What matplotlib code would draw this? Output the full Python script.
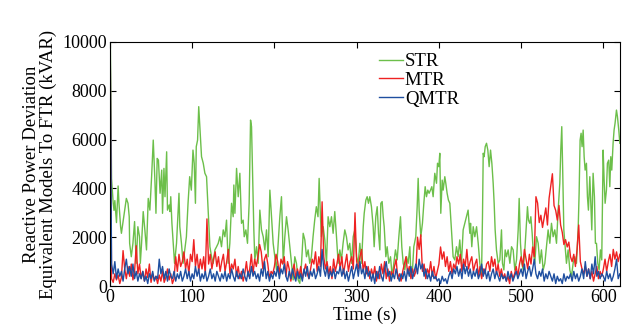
import numpy as np
import matplotlib
matplotlib.use("Agg")
import matplotlib.pyplot as plt

plt.rcParams['font.family'] = ['Liberation Serif', 'DejaVu Serif']

# STR: irregular time points
str_t = [0, 2, 4, 5, 6, 8, 10, 11, 13, 14, 16, 18, 20, 22, 23.5, 24, 26, 28, 30, 31,
         32, 34, 36, 37, 38.5, 40.5, 42.5, 44.5, 46.6, 48.6, 50.7, 52.7, 54.7, 56, 57.5, 59,
         61, 63, 64, 65.7, 67, 69, 70, 72, 73, 74, 75.4, 77, 78.6, 81, 84, 85, 87, 89, 91,
         93, 95, 97, 99, 101, 102.5, 104, 105, 106.6, 108, 109.4, 111.4, 113.5, 115.5,
         117.5, 119.5, 121.6, 123.6, 125.6, 127.7, 129.7, 131.7, 133.7, 135.7, 137.8,
         139.8, 141.8, 143.8, 145.8, 147.9, 149.9, 150.7, 152, 154, 156, 158, 160, 162,
         163.3, 165.3, 167.3, 169.3, 171, 172.2, 173.4, 175, 176.2, 178.3, 180.3, 182.3,
         184.3, 186.4, 188.4, 190.4, 192.4, 194.5, 196.5, 198.5, 200.5, 202.6, 204.6,
         206.6, 208.6, 209.8, 210.7, 212.7, 214.7, 216.7, 218.7, 220.8, 222.8, 224.8,
         226.8, 228.9, 230.9, 233, 235, 237, 239, 241, 243, 245, 247, 249, 251, 253, 254.4,
         256, 257.2, 259.3, 261.3, 263.3, 265.3, 267.4, 269.4, 271.4, 273.4, 275.5, 277.5,
         279.5, 281.5, 283.5, 285.6, 287.6, 289.6, 291.6, 293.8, 295.8, 297.8, 299.9,
         301.9, 303.9, 305.9, 308, 309.2, 311.2, 312.8, 314.4, 316, 318, 320.1, 321.3,
         323.3, 325, 326.6, 328.2, 329.4, 331, 332.3, 333.5, 335.5, 337.1, 339.1, 341.2,
         343.2, 345.2, 347.2, 349.3, 351.3, 353.3, 354.9, 356.6, 358.6, 360.6, 362.6,
         364.7, 365.9, 367.9, 369.5, 371.9, 373.6, 374.8, 376, 378, 380, 381.7, 383.3,
         384.9, 386.5, 388.1, 389.8, 391.4, 393, 395, 397.1, 398.3, 399.9, 401.1, 402.3,
         404, 405.2, 407.2, 408.4, 410, 411.6, 413.3, 415.3, 417.3, 419.3, 421.4, 423.4,
         425.4, 427.4, 429.5, 431.5, 433.5, 435.5, 437.6, 438.5, 440, 441.7, 443.7, 445.8,
         447.8, 449.8, 451.8, 453, 453.9, 455, 456.3, 457.9, 459.5, 461.1, 462.8, 464.4,
         466, 467.2, 468.4, 470, 472.1, 474.1, 476.1, 477.3, 479, 480.6, 482.2, 484.2,
         486.3, 488.3, 490.3, 492.3, 494.4, 496.4, 497.6, 499.2, 500.8, 502.5, 504.5,
         506.5, 507.7, 508.9, 510.5, 511.8, 513.4, 514.6, 516.6, 518.7, 520.7, 522.7,
         524.7, 526.8, 528.8, 530.8, 532.8, 534.9, 536.9, 538.9, 540.9, 543, 545, 547,
         548.2, 549.4, 550.6, 551.9, 553.5, 555.1, 557.1, 559.2, 561.2, 563.2, 565.2,
         567.3, 569.3, 570.5, 571.7, 572.9, 574.1, 575.4, 576.6, 577.8, 579.4, 580.6,
         581.8, 583.5, 584.7, 585.9, 587.5, 589.1, 590.3, 591.6, 593.2, 594.8, 596.4, 598,
         599.7, 600.9, 602.1, 603.7, 604.9, 606.5, 607.8, 609, 610.2, 611.8, 613, 614.2,
         615.9, 617.1, 618.7, 620]
str_v = [12000, 4400, 3400, 3100, 3500, 2600, 4100, 3400, 2430, 2160, 2640, 3110, 3590,
         3390, 2840, 1750, 1200, 1750, 2640, 1750, 930, 2430, 2020, 930, 1750, 3050, 2300,
         1480, 3590, 3110, 4480, 5980, 4340, 2980, 5230, 5160, 3800, 4750, 2980, 4820,
         3660, 5500, 3110, 3320, 3050, 3660, 2570, 1750, 930, 1750, 3800, 2430, 1750, 930,
         1480, 2020, 3390, 4480, 3930, 5570, 5030, 3390, 5710, 5980, 7350, 6530, 5300,
         5030, 4620, 4480, 3050, 1610, 1200, 930, 1480, 1610, 1750, 2020, 1610, 2300,
         2020, 2700, 930, 1750, 3390, 2840, 4140, 2980, 4820, 3660, 4620, 2570, 2700,
         2020, 2300, 1750, 3390, 6800, 6530, 4750, 2300, 1070, 1610, 930, 3110, 2300,
         2020, 1480, 2300, 1200, 3930, 2840, 1750, 1200, 660, 1750, 2840, 3660, 2300, 930,
         2020, 2840, 2300, 1610, 930, 250, 1200, 930, 250, 110, 930, 2160, 1890, 1200,
         1480, 930, 1200, 2020, 2700, 3250, 2840, 4410, 2840, 2020, 2430, 1890, 930, 2840,
         2430, 2840, 2160, 3050, 2020, 930, 1480, 1070, 1750, 2300, 2020, 1480, 1750, 930,
         2020, 2300, 1200, 930, 1750, 930, 2430, 2980, 3520, 3660, 3390, 3660, 3250, 2430,
         1610, 2840, 3250, 2160, 1480, 3390, 3460, 2840, 2430, 1200, 1610, 930, 1200, 380,
         930, 1480, 1070, 2020, 2840, 1610, 930, 660, 1200, 930, 1610, 520, 660, 1610,
         2020, 3250, 4410, 3110, 2020, 2570, 3390, 4070, 3660, 3930, 3800, 3930, 4070,
         3660, 4620, 4210, 5030, 4890, 5440, 2980, 4340, 3930, 4480, 4210, 3800, 3520,
         3390, 2300, 1200, 1070, 1610, 1200, 1890, 930, 2300, 2570, 2840, 3110, 2160, 2570,
         1610, 2430, 2020, 2430, 1750, 930, 380, 2840, 5440, 5300, 5710, 5850, 5570, 4890,
         5570, 5030, 4210, 3390, 2300, 1480, 930, 1070, 2300, 930, 660, 1480, 1200, 1480,
         930, 1610, 1480, 660, 1070, 2300, 3590, 1750, 930, 660, 1480, 2570, 3250, 2700,
         2570, 2840, 2160, 1480, 930, 2020, 1750, 930, 1480, 660, 930, 1610, 2300, 1750,
         2570, 2020, 2300, 1750, 3110, 4210, 5570, 6530, 4620, 2300, 1610, 930, 1480, 660,
         380, 930, 1200, 930, 2300, 3800, 5980, 6260, 5710, 6390, 5300, 4750, 5030, 3660,
         3110, 4480, 3390, 2300, 4620, 3660, 1750, 1750, 930, 660, 1480, 1070, 5570, 4340,
         3390, 3930, 5030, 5160, 4070, 5300, 4750, 5850, 6390, 6670, 7210, 6940, 6390, 5850]

# MTR and QMTR: one value every 2 s, t = 0 .. 620
mtr = [12000, 300, 150, 500, 250, 450, 100, 350, 1450, 700,
       300, 800, 400, 900, 250, 600, 1650, 500, 900, 300,
       600, 200, 700, 350, 900, 150, 500, 250, 400, 100,
       450, 200, 600, 150, 350, 700, 250, 500, 100, 300,
       1200, 600, 1300, 800, 1000, 1400, 700, 1100, 500, 1300,
       1000, 1900, 800, 1300, 600, 1100, 700, 1200, 500, 2750,
       900, 1300, 700, 1100, 1400, 800, 1200, 600, 1000, 1300,
       600, 1000, 1500, 500, 900, 700, 1100, 400, 800, 300,
       600, 200, 500, 1000, 400, 700, 1300, 500, 1100, 800,
       1200, 1700, 1400, 700, 1100, 1300, 900, 300, 600, 500,
       800, 1300, 1000, 500, 1100, 900, 1200, 400, 1000, 700,
       200, 600, 900, 300, 700, 400, 800, 300, 600, 900,
       500, 300, 700, 1100, 900, 1400, 600, 1200, 800, 3450,
       1200, 700, 1000, 500, 800, 300, 1100, 600, 900, 1300,
       700, 1200, 500, 900, 1300, 600, 1000, 1200, 700, 3000,
       1000, 700, 1200, 1500, 600, 1000, 500, 800, 300, 700,
       400, 800, 200, 600, 300, 900, 500, 1000, 300, 700,
       200, 600, 400, 800, 1100, 300, 500, 200, 600, 900,
       1200, 500, 800, 300, 700, 400, 600, 2000, 1500, 2100,
       600, 900, 300, 700, 500, 1000, 400, 800, 300, 600,
       900, 1600, 1100, 1400, 800, 1200, 600, 1000, 500, 900,
       700, 1200, 900, 1300, 600, 1100, 800, 1500, 700, 1000,
       1200, 600, 900, 1100, 400, 800, 300, 700, 500, 900,
       1000, 600, 1200, 800, 1100, 500, 900, 400, 700, 300,
       500, 200, 400, 100, 600, 300, 500, 800, 400, 900,
       1200, 800, 1500, 1100, 700, 1300, 900, 1600, 1200, 3660,
       3400, 2600, 2900, 2400, 2800, 3200, 2500, 3600, 4100, 4600,
       3300, 3100, 2700, 3300, 2500, 2200, 1700, 1900, 1600, 1800,
       1200, 1000, 1300, 800, 1500, 2500, 1000, 700, 500, 800,
       400, 700, 300, 600, 200, 500, 800, 300, 600, 400,
       700, 1100, 600, 1000, 1300, 800, 1500, 1100, 1400, 1000,
       1300]
qmtr = [12000, 900, 500, 1000, 300, 700, 400, 600, 200, 700,
        1100, 500, 800, 400, 900, 300, 600, 200, 500, 300,
        600, 200, 400, 100, 500, 300, 600, 200, 400, 300,
        1100, 500, 800, 300, 600, 200, 700, 400, 300, 600,
        200, 500, 300, 600, 200, 400, 700, 300, 600, 200,
        500, 300, 800, 400, 700, 200, 500, 300, 600, 200,
        400, 700, 300, 500, 200, 600, 400, 200, 500, 300,
        600, 200, 500, 300, 700, 400, 200, 600, 300, 500,
        300, 700, 400, 200, 600, 300, 800, 400, 600, 300,
        500, 200, 700, 400, 1000, 300, 600, 200, 500, 300,
        600, 400, 800, 300, 700, 500, 900, 400, 200, 600,
        300, 700, 400, 200, 600, 300, 500, 200, 700, 400,
        800, 300, 600, 400, 700, 300, 500, 800, 400, 1500,
        700, 400, 800, 300, 600, 400, 700, 300, 600, 500,
        800, 400, 700, 300, 600, 200, 500, 800, 300, 600,
        900, 400, 1000, 500, 700, 300, 800, 400, 600, 200,
        500, 100, 600, 300, 800, 400, 200, 700, 1000, 400,
        600, 200, 500, 300, 700, 400, 200, 500, 300, 600,
        200, 700, 400, 800, 300, 600, 900, 500, 1100, 700,
        900, 400, 700, 300, 500, 200, 600, 300, 400, 200,
        300, 100, 400, 200, 300, 100, 400, 600, 300, 700,
        500, 800, 400, 700, 300, 900, 500, 800, 400, 700,
        300, 600, 400, 700, 300, 500, 900, 400, 700, 300,
        600, 200, 500, 700, 300, 600, 400, 200, 500, 300,
        400, 200, 600, 300, 500, 200, 400, 600, 300, 500,
        700, 400, 900, 300, 600, 800, 400, 700, 1100, 500,
        300, 600, 400, 700, 200, 500, 300, 600, 400, 200,
        500, 100, 400, 200, 300, 100, 500, 200, 400, 300,
        500, 200, 600, 300, 500, 200, 400, 700, 300, 1000,
        400, 700, 300, 900, 500, 1200, 400, 600, 300, 500,
        400, 200, 600, 300, 500, 200, 400, 700, 1100, 300,
        500]
t2 = np.arange(len(mtr)) * 2

fig = plt.figure(figsize=(6.28, 3.28), dpi=100)
ax = fig.add_axes([0.175, 0.128, 0.812, 0.744])

ax.plot(str_t, str_v, color='#6cbf4a', lw=1.0, label='STR')
ax.plot(t2, mtr, color='#ee2222', lw=1.0, label='MTR')
ax.plot(t2, qmtr, color='#1f4fa0', lw=1.0, label='QMTR')

ax.set_xlim(0, 620)
ax.set_ylim(0, 10000)
ax.set_xticks(range(0, 601, 100))
ax.set_yticks(range(0, 10001, 2000))
ax.tick_params(direction='in', top=True, right=True, labelsize=13, length=4, pad=2)
ax.set_xlabel('Time (s)', fontsize=13.5, labelpad=1)
ax.set_ylabel('Reactive Power Deviation\nEquivalent Models To FTR (kVAR)',
              fontsize=13.5, labelpad=4, linespacing=1.0)

ax.legend(loc='upper left', bbox_to_anchor=(0.505, 1.0), frameon=False,
          fontsize=13.5, handlelength=1.3, handletextpad=0.1, labelspacing=0.08,
          borderaxespad=0.2)

fig.savefig('out.png', dpi=100)
